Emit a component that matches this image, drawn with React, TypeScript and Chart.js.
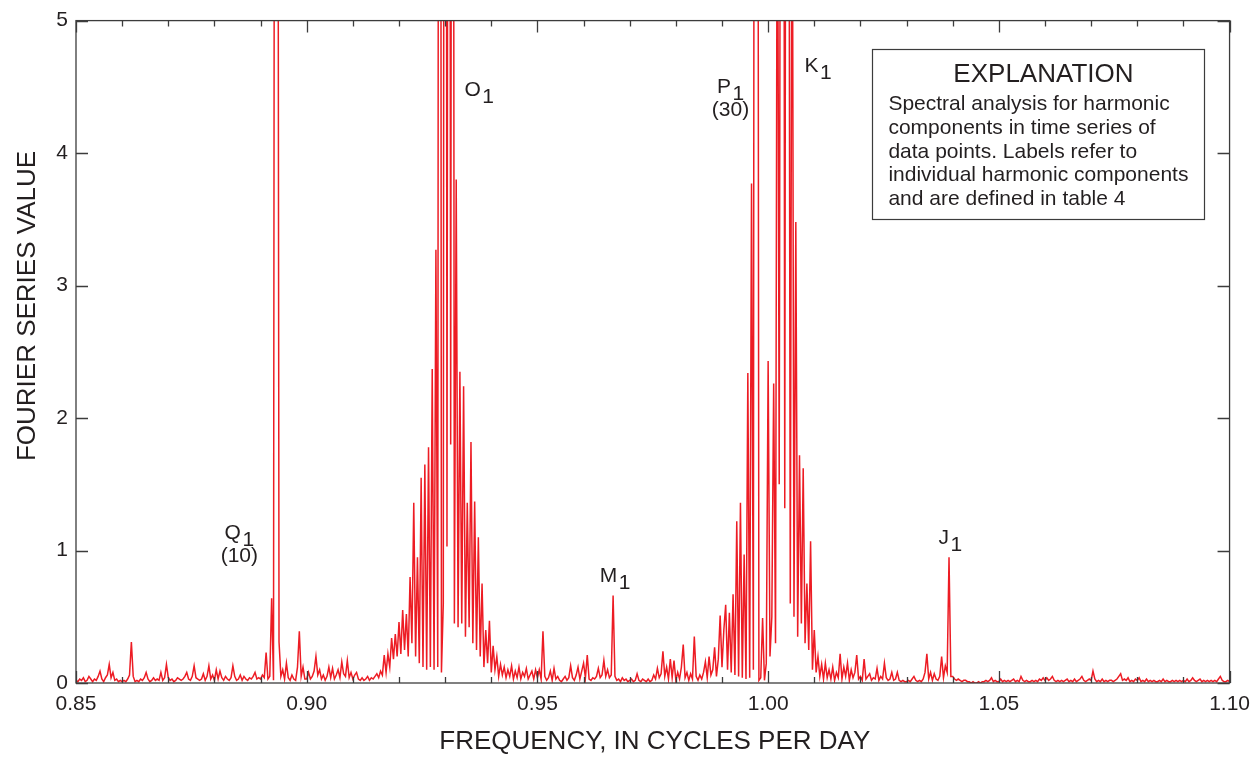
import React, { useEffect, useRef } from "react";
import { Chart, registerables } from "chart.js";

Chart.register(...registerables);

// ---------- data ----------
const FREQ_START = 0.85;
const FREQ_STEP = 0.0004;

// 0.850 – 0.8996 cycles per day
const spec085 = [
  0.02, 0.01, 0.03, 0.02, 0.04, 0.01, 0.02, 0.05, 0.03, 0.01, 0.03, 0.02, 0.05, 0.09, 0.03, 0.01, 0.04, 0.06, 0.14, 0.04, 0.08, 0.02, 0.03, 0.01, 0.02,
  0.01, 0.02, 0.01, 0.03, 0.06, 0.31, 0.05, 0.01, 0.02, 0.01, 0.03, 0.02, 0.04, 0.08, 0.03, 0.01, 0.02, 0.04, 0.02, 0.03, 0.02, 0.08, 0.02, 0.04, 0.14,
  0.04, 0.02, 0.03, 0.01, 0.02, 0.04, 0.03, 0.02, 0.03, 0.05, 0.08, 0.03, 0.02, 0.05, 0.13, 0.04, 0.03, 0.02, 0.03, 0.07, 0.02, 0.05, 0.13, 0.03, 0.06,
  0.02, 0.10, 0.03, 0.09, 0.04, 0.02, 0.05, 0.03, 0.02, 0.04, 0.13, 0.05, 0.02, 0.03, 0.06, 0.02, 0.05, 0.03, 0.02, 0.04, 0.03, 0.05, 0.08, 0.03, 0.04,
  0.03, 0.06, 0.04, 0.23, 0.03, 0.05, 0.64, 0.02, 14, 12, 0.31, 0.05, 0.10, 0.03, 0.15, 0.04, 0.02, 0.06, 0.03, 0.02, 0.12, 0.39, 0.05, 0.12, 0.03,
];
// 0.900 – 0.9496
const spec090 = [
  0.03, 0.08, 0.03, 0.05, 0.09, 0.20, 0.06, 0.10, 0.03, 0.06, 0.02, 0.05, 0.12, 0.04, 0.11, 0.03, 0.06, 0.10, 0.04, 0.16, 0.07, 0.05, 0.17, 0.04, 0.08,
  0.03, 0.06, 0.08, 0.03, 0.02, 0.04, 0.02, 0.03, 0.05, 0.02, 0.04, 0.03, 0.05, 0.07, 0.04, 0.09, 0.06, 0.21, 0.08, 0.22, 0.12, 0.34, 0.18, 0.37, 0.20,
  0.46, 0.22, 0.55, 0.25, 0.52, 0.20, 0.80, 0.30, 1.36, 0.20, 0.95, 0.15, 1.55, 0.12, 1.65, 0.10, 1.78, 0.12, 2.37, 0.10, 3.27, 0.12, 20, 0.08, 0.6,
  20, 1.03, 15, 1.8, 15, 0.45, 3.8, 0.42, 2.35, 0.45, 2.24, 0.35, 1.36, 0.42, 1.82, 0.30, 1.37, 0.25, 1.10, 0.20, 0.75, 0.12, 0.40, 0.15, 0.47,
  0.08, 0.28, 0.10, 0.20, 0.05, 0.14, 0.06, 0.12, 0.04, 0.10, 0.05, 0.13, 0.03, 0.09, 0.04, 0.12, 0.03, 0.08, 0.05, 0.11, 0.03, 0.06, 0.09, 0.03, 0.10,
];
// 0.950 – 0.9996
const spec095 = [
  0.04, 0.10, 0.03, 0.39, 0.05, 0.02, 0.04, 0.09, 0.02, 0.11, 0.03, 0.05, 0.02, 0.01, 0.03, 0.05, 0.02, 0.04, 0.13, 0.04, 0.02, 0.06, 0.12, 0.03, 0.09,
  0.15, 0.04, 0.21, 0.03, 0.02, 0.04, 0.03, 0.05, 0.11, 0.04, 0.06, 0.17, 0.05, 0.10, 0.04, 0.06, 0.66, 0.05, 0.02, 0.03, 0.01, 0.04, 0.02, 0.03, 0.01,
  0.02, 0.03, 0.01, 0.02, 0.07, 0.02, 0.01, 0.03, 0.02, 0.01, 0.03, 0.01, 0.02, 0.06, 0.03, 0.11, 0.04, 0.07, 0.24, 0.05, 0.12, 0.03, 0.18, 0.04, 0.17,
  0.02, 0.08, 0.03, 0.12, 0.29, 0.04, 0.08, 0.02, 0.07, 0.03, 0.35, 0.05, 0.02, 0.06, 0.03, 0.08, 0.16, 0.04, 0.20, 0.06, 0.10, 0.27, 0.05, 0.18, 0.51,
  0.12, 0.40, 0.59, 0.10, 0.53, 0.08, 0.67, 0.06, 1.22, 0.05, 1.36, 0.04, 0.97, 0.03, 2.34, 0.04, 3.77, 0.10, 18, 14, 0.02, 0.04, 0.49, 0.02, 0.15,
];
// 1.000 – 1.0496
const spec100 = [
  2.43, 0.2, 0.5, 2.26, 0.3, 7, 1.5, 10, 14, 1.32, 12, 9, 0.6, 7, 0.5, 3.48, 0.35, 1.72, 0.45, 1.62, 0.30, 0.75, 0.25, 1.07, 0.10,
  0.40, 0.08, 0.20, 0.05, 0.14, 0.03, 0.15, 0.04, 0.10, 0.03, 0.12, 0.02, 0.08, 0.04, 0.22, 0.03, 0.12, 0.05, 0.15, 0.02, 0.10, 0.04, 0.08, 0.21, 0.03,
  0.05, 0.02, 0.18, 0.03, 0.05, 0.07, 0.02, 0.04, 0.03, 0.11, 0.02, 0.05, 0.03, 0.15, 0.04, 0.02, 0.03, 0.08, 0.02, 0.03, 0.08, 0.02, 0.01, 0.02, 0.01,
  0.01, 0.02, 0.01, 0.03, 0.05, 0.02, 0.01, 0.02, 0.01, 0.03, 0.08, 0.22, 0.03, 0.08, 0.02, 0.07, 0.03, 0.02, 0.05, 0.20, 0.04, 0.13, 0.08, 0.95, 0.05,
  0.05, 0.03, 0.02, 0.03, 0.02, 0.01, 0.02, 0.02, 0.01, 0.01, 0.00, 0.01, 0.00, 0.00, 0.01, 0.00, 0.01, 0.01, 0.02, 0.01, 0.02, 0.04, 0.01, 0.02, 0.01,
];
// 1.050 – 1.100
const spec105 = [
  0.01, 0.03, 0.01, 0.02, 0.01, 0.02, 0.01, 0.02, 0.03, 0.01, 0.02, 0.01, 0.05, 0.02, 0.01, 0.02, 0.01, 0.01, 0.02, 0.01, 0.02, 0.01, 0.03, 0.02, 0.04,
  0.02, 0.04, 0.02, 0.03, 0.05, 0.02, 0.01, 0.02, 0.01, 0.02, 0.01, 0.02, 0.03, 0.01, 0.02, 0.01, 0.03, 0.01, 0.02, 0.03, 0.05, 0.02, 0.01, 0.02, 0.03,
  0.02, 0.09, 0.03, 0.01, 0.02, 0.01, 0.03, 0.01, 0.02, 0.01, 0.02, 0.02, 0.01, 0.02, 0.03, 0.05, 0.07, 0.02, 0.03, 0.02, 0.04, 0.01, 0.02, 0.01, 0.03,
  0.02, 0.04, 0.01, 0.02, 0.01, 0.03, 0.01, 0.02, 0.01, 0.02, 0.01, 0.01, 0.02, 0.01, 0.03, 0.01, 0.02, 0.01, 0.01, 0.02, 0.01, 0.02, 0.01, 0.02, 0.01,
  0.02, 0.01, 0.03, 0.01, 0.02, 0.04, 0.02, 0.01, 0.02, 0.03, 0.01, 0.02, 0.01, 0.02, 0.01, 0.02, 0.01, 0.02, 0.01, 0.03, 0.05, 0.02, 0.01, 0.01, 0.02,
  0.01,
];

const X_MAJOR_TICKS = [0.85, 0.9, 0.95, 1.0, 1.05, 1.1];
const X_MINOR_TICKS = [
  0.86, 0.87, 0.88, 0.89, 0.91, 0.92, 0.93, 0.94, 0.96, 0.97, 0.98, 0.99,
  1.01, 1.02, 1.03, 1.04, 1.06, 1.07, 1.08, 1.09,
];
const Y_TICKS = [0, 1, 2, 3, 4, 5];

const X_TITLE = "FREQUENCY, IN CYCLES PER DAY";
const Y_TITLE = "FOURIER SERIES VALUE";

// harmonic component labels: letter, subscript, anchor (frequency, value), optional note
const PEAK_NAMES = ["Q", "O", "M", "P", "K", "J"];
const PEAK_SUBS = ["1", "1", "1", "1", "1", "1"];
const PEAK_NOTES = ["(10)", "", "", "(30)", "", ""];
const PEAK_LABEL_FREQ = [0.8822, 0.9342, 0.9635, 0.9889, 1.0079, 1.0369];
const PEAK_LABEL_VALUE = [1.087, 4.434, 0.759, 4.451, 4.61, 1.052];

const EXPLANATION_TITLE = "EXPLANATION";
const EXPLANATION_LINES = [
  "Spectral analysis for harmonic",
  "components in time series of",
  "data points. Labels refer to",
  "individual harmonic components",
  "and are defined in table 4",
];

// ---------- styling ----------
const FONT = "'Liberation Sans', Arial, Helvetica, sans-serif";
const TEXT_COLOR = "#231f20";
const FRAME_COLOR = "#3c3c3c";
const LINE_COLOR = "#ed1c24";

const decorPlugin = {
  id: "decor",
  afterDraw(chart: any) {
    const { ctx, chartArea: a, scales } = chart;
    const xs = scales.x;
    const ys = scales.y;
    ctx.save();

    // frame
    ctx.strokeStyle = FRAME_COLOR;
    ctx.lineWidth = 1.3;
    ctx.strokeRect(a.left, a.top, a.right - a.left, a.bottom - a.top);

    // inward ticks
    ctx.beginPath();
    const xTick = (v: number, len: number) => {
      const p = Math.round(xs.getPixelForValue(v)) + 0.5;
      ctx.moveTo(p, a.bottom);
      ctx.lineTo(p, a.bottom - len);
      ctx.moveTo(p, a.top);
      ctx.lineTo(p, a.top + len);
    };
    X_MAJOR_TICKS.forEach((v) => xTick(v, 12));
    X_MINOR_TICKS.forEach((v) => xTick(v, 6));
    Y_TICKS.forEach((v) => {
      const p = Math.round(ys.getPixelForValue(v)) + 0.5;
      ctx.moveTo(a.left, p);
      ctx.lineTo(a.left + 12, p);
      ctx.moveTo(a.right, p);
      ctx.lineTo(a.right - 12, p);
    });
    ctx.stroke();

    ctx.fillStyle = TEXT_COLOR;

    // axis titles
    ctx.font = `26px ${FONT}`;
    ctx.textAlign = "center";
    ctx.textBaseline = "middle";
    ctx.fillText(X_TITLE, (a.left + a.right) / 2 + 2, 742);
    ctx.save();
    ctx.translate(28, 306);
    ctx.rotate(-Math.PI / 2);
    ctx.fillText(Y_TITLE, 0, 0);
    ctx.restore();

    // peak labels
    ctx.font = `21px ${FONT}`;
    ctx.textBaseline = "alphabetic";
    PEAK_NAMES.forEach((name, i) => {
      const x = xs.getPixelForValue(PEAK_LABEL_FREQ[i]);
      const y = ys.getPixelForValue(PEAK_LABEL_VALUE[i]);
      ctx.textAlign = "left";
      ctx.fillText(name, x, y);
      const w = ctx.measureText(name).width;
      ctx.fillText(PEAK_SUBS[i], x + w + 1.5, y + 7);
      const total = w + 1.5 + ctx.measureText(PEAK_SUBS[i]).width;
      if (PEAK_NOTES[i]) {
        ctx.textAlign = "center";
        ctx.fillText(PEAK_NOTES[i], x + total / 2, y + 23);
      }
    });

    // explanation box (anchored in data coordinates)
    const bl = xs.getPixelForValue(1.0226);
    const br = xs.getPixelForValue(1.0946);
    const bt = ys.getPixelForValue(4.783);
    const bb = ys.getPixelForValue(3.501);
    ctx.fillStyle = "#ffffff";
    ctx.fillRect(bl, bt, br - bl, bb - bt);
    ctx.strokeStyle = FRAME_COLOR;
    ctx.lineWidth = 1.2;
    ctx.strokeRect(Math.round(bl) + 0.5, Math.round(bt) + 0.5, Math.round(br - bl), Math.round(bb - bt));
    ctx.fillStyle = TEXT_COLOR;
    ctx.font = `26px ${FONT}`;
    ctx.textAlign = "center";
    ctx.fillText(EXPLANATION_TITLE, bl + 171, bt + 33);
    ctx.font = `21px ${FONT}`;
    ctx.textAlign = "left";
    EXPLANATION_LINES.forEach((line, i) => {
      ctx.fillText(line, bl + 16, bt + 61 + i * 23.6);
    });

    ctx.restore();
  },
};

export default function App() {
  const canvasRef = useRef<HTMLCanvasElement | null>(null);

  useEffect(() => {
    const values = [...spec085, ...spec090, ...spec095, ...spec100, ...spec105];
    const points = values.map((v, i) => ({ x: FREQ_START + i * FREQ_STEP, y: v }));
    const canvas = canvasRef.current;
    if (!canvas) return;

    const chart = new Chart(canvas, {
      type: "line",
      data: {
        datasets: [
          {
            data: points,
            borderColor: LINE_COLOR,
            borderWidth: 1.5,
            pointRadius: 0,
            tension: 0,
            fill: false,
            clip: 0,
          } as any,
        ],
      },
      options: {
        responsive: true,
        maintainAspectRatio: false,
        animation: false,
        events: [],
        layout: { padding: { top: 16, right: 29, left: 0, bottom: 0 } },
        plugins: { legend: { display: false }, tooltip: { enabled: false }, title: { display: false } },
        scales: {
          x: {
            type: "linear",
            min: 0.85,
            max: 1.1,
            grid: { display: false, drawTicks: false },
            border: { display: false },
            afterBuildTicks: (s: any) => {
              s.ticks = X_MAJOR_TICKS.map((v) => ({ value: v }));
            },
            afterFit: (s: any) => {
              s.height = 77;
            },
            ticks: {
              callback: (v: any) => Number(v).toFixed(2),
              font: { family: FONT, size: 21 },
              color: TEXT_COLOR,
              padding: 9,
              maxRotation: 0,
              autoSkip: false,
            },
          },
          y: {
            type: "linear",
            min: 0,
            max: 5,
            grid: { display: false, drawTicks: false },
            border: { display: false },
            afterBuildTicks: (s: any) => {
              s.ticks = Y_TICKS.map((v) => ({ value: v }));
            },
            afterFit: (s: any) => {
              s.width = 76;
            },
            ticks: {
              callback: (v: any) => String(v),
              font: { family: FONT, size: 21 },
              color: TEXT_COLOR,
              padding: 8,
            },
          },
        },
      },
      plugins: [decorPlugin],
    });

    return () => chart.destroy();
  }, []);

  return (
    <div style={{ position: "fixed", left: 0, top: 0, width: 1259, height: 760, background: "#fff" }}>
      <canvas ref={canvasRef} />
    </div>
  );
}
